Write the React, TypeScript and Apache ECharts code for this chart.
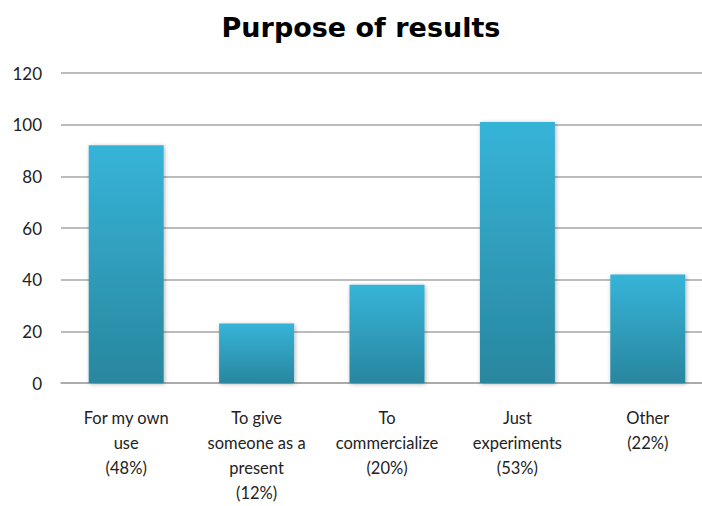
import React, { useEffect, useRef } from "react";
import * as echarts from "echarts";

const categories = [
  "For my own\nuse\n(48%)",
  "To give\nsomeone as a\npresent\n(12%)",
  "To\ncommercialize\n(20%)",
  "Just\nexperiments\n(53%)",
  "Other\n(22%)",
];
const values = [92, 23, 38, 101, 42];
const yTicks = { min: 0, max: 120, interval: 20 };
const titleText = "Purpose of results";

export default function App() {
  const ref = useRef<HTMLDivElement>(null);
  useEffect(() => {
    if (!ref.current) return;
    const chart = echarts.init(ref.current, null, { renderer: "svg" });
    const font = "Lato, 'Open Sans', sans-serif";
    chart.setOption({
      animation: false,
      backgroundColor: "#ffffff",
      title: {
        text: titleText,
        left: 356,
        top: 9,
        textAlign: "center",
        textStyle: { fontFamily: "'DejaVu Sans', sans-serif", fontSize: 27, fontWeight: "bold", color: "#000" },
      },
      grid: { left: 61, width: 652, top: 73, bottom: 506 - 383, outerBoundsMode: "none", containLabel: false },
      xAxis: {
        type: "category",
        data: categories,
        axisLine: { show: true, lineStyle: { color: "#a6a6a6", width: 1.5 } },
        axisTick: { show: false },
        axisLabel: {
          interval: 0,
          margin: 22,
          fontFamily: font,
          fontSize: 16.5,
          lineHeight: 25,
          color: "#222",
        },
      },
      yAxis: {
        type: "value",
        min: yTicks.min,
        max: yTicks.max,
        interval: yTicks.interval,
        axisLine: { show: false },
        axisTick: { show: false },
        splitLine: { lineStyle: { color: "#a6a6a6", width: 1.5 } },
        axisLabel: { margin: 19, fontFamily: font, fontSize: 17, color: "#222" },
      },
      series: [
        {
          type: "bar",
          data: values,
          barWidth: 75,
          itemStyle: {
            color: new echarts.graphic.LinearGradient(0, 0, 0, 1, [
              { offset: 0, color: "#36b4d8" },
              { offset: 1, color: "#29869f" },
            ]),
            shadowBlur: 4,
            shadowColor: "rgba(0,0,0,0.3)",
            shadowOffsetX: 1,
            shadowOffsetY: 1,
          },
        },
      ],
    });
    return () => chart.dispose();
  }, []);
  return <div ref={ref} style={{ width: 702, height: 506, position: "absolute", left: 0, top: 0 }} />;
}
